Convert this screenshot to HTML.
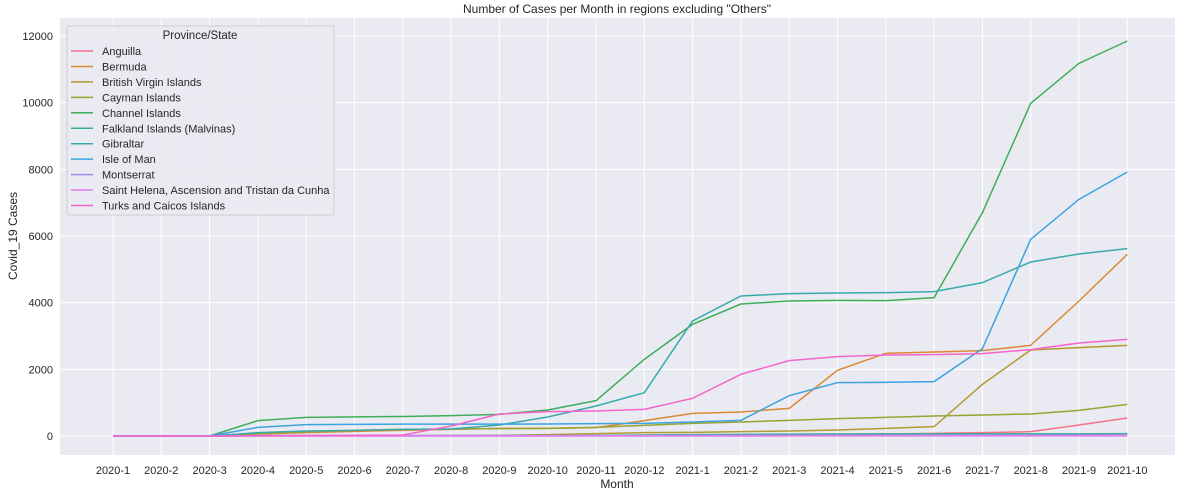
<!DOCTYPE html>
<html><head><meta charset="utf-8"><style>
body{margin:0;background:#fff;font-family:"Liberation Sans",Arial,sans-serif;}
svg text{font-family:"Liberation Sans",Arial,sans-serif;fill:#262626;}
</style></head><body>
<svg id="chart" width="1184" height="496" xmlns="http://www.w3.org/2000/svg">
<rect x="0" y="0" width="1184" height="496" fill="#fff"/>
<rect x="60" y="18" width="1115" height="437" fill="#eaeaf2"/>
<g id="grid"></g><g id="series"></g><g id="axes"></g><g id="legend"></g>
<text x="617" y="13" font-size="12" text-anchor="middle">Number of Cases per Month in regions excluding "Others"</text>
<text x="617" y="488" font-size="12" text-anchor="middle">Month</text>
<text transform="translate(17,236) rotate(-90)" font-size="12" text-anchor="middle">Covid_19 Cases</text>
</svg>
<script>
const months=["2020-1","2020-2","2020-3","2020-4","2020-5","2020-6","2020-7","2020-8","2020-9","2020-10","2020-11","2020-12","2021-1","2021-2","2021-3","2021-4","2021-5","2021-6","2021-7","2021-8","2021-9","2021-10"];
const yTicks=[0,2000,4000,6000,8000,10000,12000];
const seriesNames=["Anguilla","Bermuda","British Virgin Islands","Cayman Islands","Channel Islands","Falkland Islands (Malvinas)","Gibraltar","Isle of Man","Montserrat","Saint Helena, Ascension and Tristan da Cunha","Turks and Caicos Islands"];
const anguilla=[0,0,0,3,3,3,3,3,3,3,10,10,15,15,20,30,60,80,100,130,330,540];
const bermuda=[0,0,0,60,100,140,170,200,230,230,250,460,680,720,830,1970,2480,2520,2560,2720,4050,5450];
const bvi=[0,0,0,5,8,10,10,15,20,40,70,100,110,130,150,180,230,280,1550,2580,2650,2720];
const cayman=[0,0,0,70,120,170,200,210,220,230,260,320,380,420,470,520,560,600,630,660,770,950];
const channel=[0,0,0,460,560,575,585,610,650,780,1060,2300,3350,3960,4050,4070,4060,4150,6700,9980,11180,11850];
const falkland=[0,0,0,13,13,13,13,13,13,13,16,30,40,50,55,60,63,63,63,63,65,70];
const gibraltar=[0,0,0,100,150,170,200,210,330,570,900,1300,3450,4200,4270,4290,4300,4330,4600,5220,5460,5620];
const isleOfMan=[0,0,0,260,340,350,355,355,355,360,370,380,420,470,1210,1600,1610,1630,2620,5900,7100,7920];
const montserrat=[0,0,0,10,11,11,13,13,13,13,13,13,15,18,20,20,20,20,20,20,25,30];
const saintHelena=[0,0,0,0,0,0,0,0,0,0,0,0,0,0,2,2,2,2,2,2,4,5];
const turks=[0,0,0,10,15,20,30,300,660,730,750,800,1130,1850,2260,2380,2430,2440,2470,2590,2790,2900];
const allSeries=[anguilla,bermuda,bvi,cayman,channel,falkland,gibraltar,isleOfMan,montserrat,saintHelena,turks];
const colors=["#f77189","#dc8932","#b39a31","#97a431","#3fae5a","#36ad8f","#38aaac","#3ba3e0","#a48cf4","#e67bf3","#f565cc"];
const NS="http://www.w3.org/2000/svg";
const X0=113,XSTEP=48.3,Y0=436,YSCALE=400/12000;
const xs=i=>X0+i*XSTEP, ys=v=>Y0-v*YSCALE;
function mk(tag,attrs,parent){const e=document.createElementNS(NS,tag);for(const k in attrs)e.setAttribute(k,attrs[k]);parent.appendChild(e);return e;}
const grid=document.getElementById('grid'),axes=document.getElementById('axes'),ser=document.getElementById('series'),leg=document.getElementById('legend');
months.forEach((m,i)=>{
 const l=mk('line',{x1:xs(i),x2:xs(i),y1:18,y2:455,stroke:'#fff','stroke-width':1},grid);
 
 
 const t=mk('text',{x:xs(i),y:474,'font-size':11,'text-anchor':'middle'},axes);
 t.textContent=m;
 
 
});
yTicks.forEach(v=>{
 const l=mk('line',{x1:60,x2:1175,y1:ys(v),y2:ys(v),stroke:'#fff','stroke-width':1},grid);
 
 
 const t=mk('text',{x:53,y:ys(v)+4,'font-size':11,'text-anchor':'end'},axes);
 t.textContent=v;
 
 
});
allSeries.forEach((s,k)=>{
 const p=mk('polyline',{points:s.map((v,i)=>xs(i)+','+ys(v)).join(' '),fill:'none',stroke:colors[k],'stroke-width':1.5},ser);
 
 
});
const lb=mk('rect',{x:67,y:26,width:267,height:189,fill:'#eaeaf2',stroke:'#cccccc','stroke-width':1,rx:2,opacity:0.9},leg);


const lt=mk('text',{x:200,y:39,'font-size':11.5,'text-anchor':'middle'},leg);
lt.textContent='Province/State';


seriesNames.forEach((n,k)=>{
 const y=51+k*15.45;
 const l=mk('line',{x1:71,x2:93,y1:y,y2:y,stroke:colors[k],'stroke-width':1.5},leg);
 
 
 const t=mk('text',{x:102,y:y+4,'font-size':11},leg);
 t.textContent=n;
 
 
});
</script>
</body></html>
